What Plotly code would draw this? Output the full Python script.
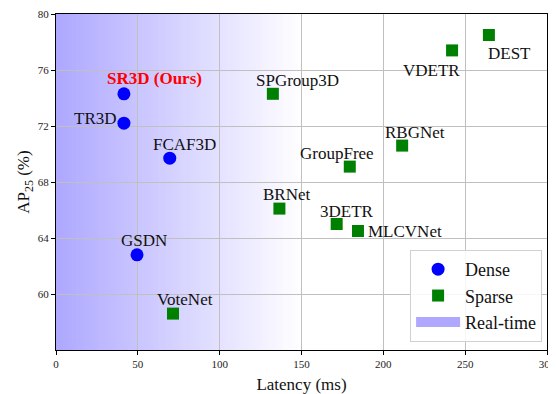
import plotly.graph_objects as go

# ---- data ----
dense_names = ["SR3D (Ours)", "TR3D", "FCAF3D", "GSDN"]
dense_latency = [41.5, 41.5, 69.5, 49.5]
dense_ap = [74.3, 72.2, 69.7, 62.8]

sparse_names = ["VoteNet", "SPGroup3D", "BRNet", "GroupFree", "RBGNet",
                "VDETR", "DEST", "3DETR", "MLCVNet"]
sparse_latency = [71.5, 132.5, 136.5, 179.5, 211.5, 242.0, 264.5, 171.5, 184.5]
sparse_ap = [58.6, 74.3, 66.1, 69.1, 70.6, 77.4, 78.5, 65.0, 64.5]

realtime_limit = 150  # ms, gradient fades to white here

x_ticks = [0, 50, 100, 150, 200, 250, 300]
y_ticks = [60, 64, 68, 72, 76, 80]

# ---- label offsets (pixels) ----
label_offsets = {
    "SR3D (Ours)": (31, 15), "TR3D": (-28, 5), "FCAF3D": (15, 14), "GSDN": (7, 14),
    "VoteNet": (12, 14), "SPGroup3D": (25, 13), "BRNet": (8, 14), "GroupFree": (-13, 13),
    "RBGNet": (13, 13), "VDETR": (-21, -20), "DEST": (21, -18), "3DETR": (10, 13),
    "MLCVNet": (47, 0),
}

FONT = "Liberation Serif, Times New Roman, serif"
fig = go.Figure()

fig.add_trace(go.Scatter(x=dense_latency, y=dense_ap, mode="markers", name="Dense",
                         marker=dict(symbol="circle", size=13, color="#0000ff")))
fig.add_trace(go.Scatter(x=sparse_latency, y=sparse_ap, mode="markers", name="Sparse",
                         marker=dict(symbol="square", size=12, color="#008000")))
fig.add_trace(go.Scatter(x=[None], y=[None], mode="lines", name="Real-time",
                         line=dict(color="#b0a8ff", width=13)))

# gradient background
start = (174, 168, 255)
n = 75
step = realtime_limit / n
shapes = []
for i in range(n):
    t = (i + 0.5) / n
    c = tuple(round(s + (255 - s) * t) for s in start)
    shapes.append(dict(type="rect", xref="x", yref="paper", x0=i * step,
                       x1=min((i + 1.6) * step, realtime_limit), y0=0, y1=1,
                       fillcolor="rgb(%d,%d,%d)" % c, line=dict(width=0), layer="below"))

annotations = []
for names, xs, ys in [(dense_names, dense_latency, dense_ap),
                      (sparse_names, sparse_latency, sparse_ap)]:
    for nm, x, y in zip(names, xs, ys):
        dx, dy = label_offsets[nm]
        ours = "Ours" in nm
        annotations.append(dict(
            x=x, y=y, xref="x", yref="y", showarrow=False,
            text="<b>%s</b>" % nm if ours else nm,
            xshift=dx, yshift=dy, xanchor="center", yanchor="middle",
            font=dict(family=FONT, size=17, color="#ff0000" if ours else "#111111")))

axis_common = dict(showline=True, linecolor="black", linewidth=1.2, mirror=True,
                   ticks="outside", ticklen=4, tickcolor="black", automargin=False,
                   ticklabeloverflow="allow",
                   showgrid=True, gridcolor="#c0c0c0", gridwidth=1, zeroline=False,
                   tickfont=dict(family=FONT, size=11, color="#222222"))

# page body has an 8px margin, so the figure is sized/offset to compensate
fig.update_layout(
    width=548, height=386,
    margin=dict(l=48, r=9, t=6, b=44),
    paper_bgcolor="white", plot_bgcolor="white",
    font=dict(family=FONT, color="#111111"),
    shapes=shapes, annotations=annotations,
    xaxis=dict(range=[0, 300], tickvals=x_ticks,
               title=dict(text="Latency (ms)", font=dict(family=FONT, size=17)),
               **axis_common),
    yaxis=dict(range=[56, 80], tickvals=y_ticks,
               title=dict(text="AP<sub>25</sub> (%)", font=dict(family=FONT, size=17),
                          standoff=3),
               **axis_common),
    legend=dict(x=0.99, y=0.024, xanchor="right", yanchor="bottom",
                bgcolor="rgba(255,255,255,0.85)", bordercolor="#d0d0d0", borderwidth=1,
                itemwidth=44, font=dict(family=FONT, size=18)),
)

fig.write_html("out.html")
